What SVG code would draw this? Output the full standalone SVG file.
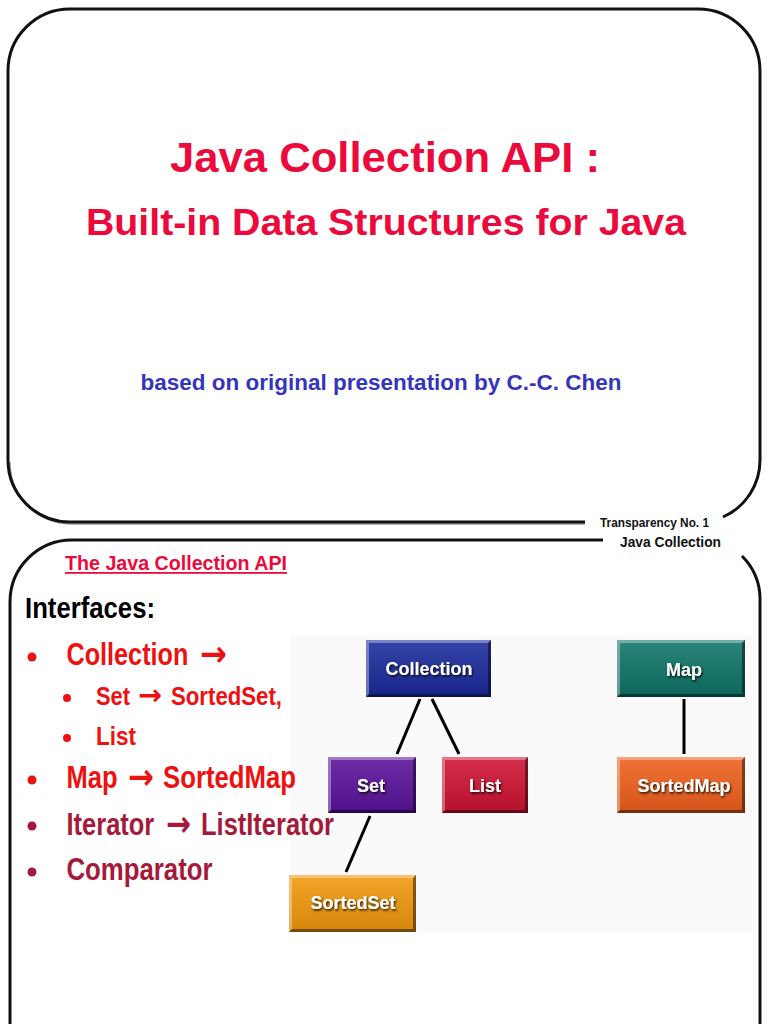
<svg xmlns="http://www.w3.org/2000/svg" width="768" height="1024" viewBox="0 0 768 1024">
<defs>
<style>
.frame{fill:none;stroke:#111;stroke-width:3;stroke-linecap:butt}
.frameshadow{fill:none;stroke:#999;stroke-width:1.5}
.sans{font-family:"Liberation Sans",Arial,sans-serif;font-weight:bold}
.arr{font-family:"DejaVu Sans",sans-serif;font-weight:bold}
.title{fill:#ec0a3c;text-anchor:middle}
.red{fill:#ee1111}
.dred{fill:#a51a3a}
.lbl{fill:#fff;font-size:18px;text-anchor:middle;filter:url(#ds)}
.conn{stroke:#000;stroke-width:3;fill:none}
.bevel{fill:url(#shade)}
.hi{fill:#fff;opacity:0.35}
.lo{fill:#000;opacity:0.45}
</style>
<linearGradient id="shade" x1="0" y1="0" x2="0" y2="1">
<stop offset="0" stop-color="#fff" stop-opacity="0.12"/>
<stop offset="1" stop-color="#000" stop-opacity="0.12"/>
</linearGradient>
<filter id="ds" x="-20%" y="-40%" width="140%" height="180%">
<feDropShadow dx="1" dy="1.5" stdDeviation="1" flood-color="#000" flood-opacity="0.9"/>
</filter>
</defs>
<rect width="768" height="1024" fill="#fff"/>

<!-- Slide 1 frame -->
<path class="frameshadow" d="M585,524 H70 A62,62 0 0 1 10,462"/>
<path class="frame" d="M585,522 H70 A62,62 0 0 1 8,460 V71 A62,62 0 0 1 70,9 H698 A62,62 0 0 1 760,71 V460 A62,62 0 0 1 723,517"/>
<text class="sans title" x="385" y="172" font-size="43" textLength="430" lengthAdjust="spacingAndGlyphs">Java Collection API :</text>
<text class="sans title" x="386" y="235" font-size="37" textLength="600" lengthAdjust="spacingAndGlyphs">Built-in Data Structures for Java</text>
<text class="sans" x="381" y="390" font-size="22.5" fill="#3535bb" text-anchor="middle" textLength="481" lengthAdjust="spacingAndGlyphs">based on original presentation by C.-C. Chen</text>
<text class="sans" x="600" y="527" font-size="12.5" fill="#111" textLength="109" lengthAdjust="spacingAndGlyphs">Transparency No. 1</text>
<text class="sans" x="620" y="547" font-size="14" fill="#111" textLength="101" lengthAdjust="spacingAndGlyphs">Java Collection</text>

<!-- Slide 2 frame -->
<path class="frame" d="M603,540 H72 A62,62 0 0 0 10,602 V1030"/>
<path class="frame" d="M742,556 A62,62 0 0 1 760,602 V1030"/>

<!-- diagram background -->
<rect x="290" y="636" width="462" height="296" fill="#f9faf9"/>

<text class="sans" x="65" y="570" font-size="19.5" fill="#ec0a3c" textLength="222" lengthAdjust="spacingAndGlyphs">The Java Collection API</text>
<rect x="65" y="572" width="222" height="1.8" fill="#ec0a3c"/>
<text class="sans" x="25" y="618" font-size="29" fill="#000" textLength="130" lengthAdjust="spacingAndGlyphs">Interfaces:</text>

<circle cx="32" cy="657" r="4.5" class="red"/>
<text class="sans red" transform="translate(66.5,665) scale(0.813,1)" font-size="31">Collection</text>
<text class="arr red" x="200" y="666" font-size="36" textLength="27" lengthAdjust="spacingAndGlyphs">→</text>

<circle cx="67" cy="698" r="4" class="red"/>
<text class="sans red" x="96" y="705" font-size="25" textLength="34" lengthAdjust="spacingAndGlyphs">Set</text>
<text class="arr red" x="138" y="705" font-size="29" textLength="24" lengthAdjust="spacingAndGlyphs">→</text>
<text class="sans red" x="171" y="705" font-size="25" textLength="111" lengthAdjust="spacingAndGlyphs">SortedSet,</text>

<circle cx="67" cy="738" r="4" class="red"/>
<text class="sans red" x="96" y="745" font-size="25" textLength="40" lengthAdjust="spacingAndGlyphs">List</text>

<circle cx="32" cy="780" r="4.5" class="red"/>
<text class="sans red" x="66.5" y="788" font-size="31" textLength="51" lengthAdjust="spacingAndGlyphs">Map</text>
<text class="arr red" x="128" y="789" font-size="36" textLength="26" lengthAdjust="spacingAndGlyphs">→</text>
<text class="sans red" x="163" y="788" font-size="31" textLength="133" lengthAdjust="spacingAndGlyphs">SortedMap</text>

<circle cx="32" cy="826" r="4.5" class="dred"/>
<text class="sans dred" transform="translate(66.5,835) scale(0.822,1)" font-size="31">Iterator</text>
<text class="arr dred" x="166" y="836" font-size="36" textLength="25" lengthAdjust="spacingAndGlyphs">→</text>
<text class="sans dred" x="201" y="835" font-size="31" textLength="133" lengthAdjust="spacingAndGlyphs">ListIterator</text>

<circle cx="32" cy="872" r="4.5" class="dred"/>
<text class="sans dred" x="66.5" y="880" font-size="31" textLength="146" lengthAdjust="spacingAndGlyphs">Comparator</text>

<!-- connectors -->
<g id="connectors">
<line class="conn" x1="420" y1="699" x2="397" y2="754"/>
<line class="conn" x1="432" y1="699" x2="459" y2="754"/>
<line class="conn" x1="684" y1="699" x2="684" y2="754"/>
<line class="conn" x1="370" y1="816" x2="346" y2="872"/>
</g>

<!-- nodes -->
<g id="node-collection">
<rect x="366" y="640" width="125" height="57" fill="#1a2a9c"/>
<rect x="366" y="640" width="125" height="57" class="bevel"/>
<polygon class="hi" points="366,640 491,640 488,643 369,643 369,694 366,697"/>
<polygon class="lo" points="491,640 491,697 366,697 369,694 488,694 488,643"/>
<text class="sans lbl" x="429" y="675">Collection</text>
</g>
<g id="node-map">
<rect x="617" y="640" width="128" height="57" fill="#0e7466"/>
<rect x="617" y="640" width="128" height="57" class="bevel"/>
<polygon class="hi" points="617,640 745,640 742,643 620,643 620,694 617,697"/>
<polygon class="lo" points="745,640 745,697 617,697 620,694 742,694 742,643"/>
<text class="sans lbl" x="684" y="676">Map</text>
</g>
<g id="node-set">
<rect x="328" y="757" width="88" height="56" fill="#5a129c"/>
<rect x="328" y="757" width="88" height="56" class="bevel"/>
<polygon class="hi" points="328,757 416,757 413,760 331,760 331,810 328,813"/>
<polygon class="lo" points="416,757 416,813 328,813 331,810 413,810 413,760"/>
<text class="sans lbl" x="371" y="792">Set</text>
</g>
<g id="node-list">
<rect x="442" y="757" width="86" height="56" fill="#cf1232"/>
<rect x="442" y="757" width="86" height="56" class="bevel"/>
<polygon class="hi" points="442,757 528,757 525,760 445,760 445,810 442,813"/>
<polygon class="lo" points="528,757 528,813 442,813 445,810 525,810 525,760"/>
<text class="sans lbl" x="485" y="792">List</text>
</g>
<g id="node-sortedmap">
<rect x="617" y="757" width="128" height="56" fill="#f0601c"/>
<rect x="617" y="757" width="128" height="56" class="bevel"/>
<polygon class="hi" points="617,757 745,757 742,760 620,760 620,810 617,813"/>
<polygon class="lo" points="745,757 745,813 617,813 620,810 742,810 742,760"/>
<text class="sans lbl" x="684" y="792">SortedMap</text>
</g>
<g id="node-sortedset">
<rect x="289" y="875" width="127" height="57" fill="#f2990c"/>
<rect x="289" y="875" width="127" height="57" class="bevel"/>
<polygon class="hi" points="289,875 416,875 413,878 292,878 292,929 289,932"/>
<polygon class="lo" points="416,875 416,932 289,932 292,929 413,929 413,878"/>
<text class="sans lbl" x="353" y="909">SortedSet</text>
</g>
</svg>
